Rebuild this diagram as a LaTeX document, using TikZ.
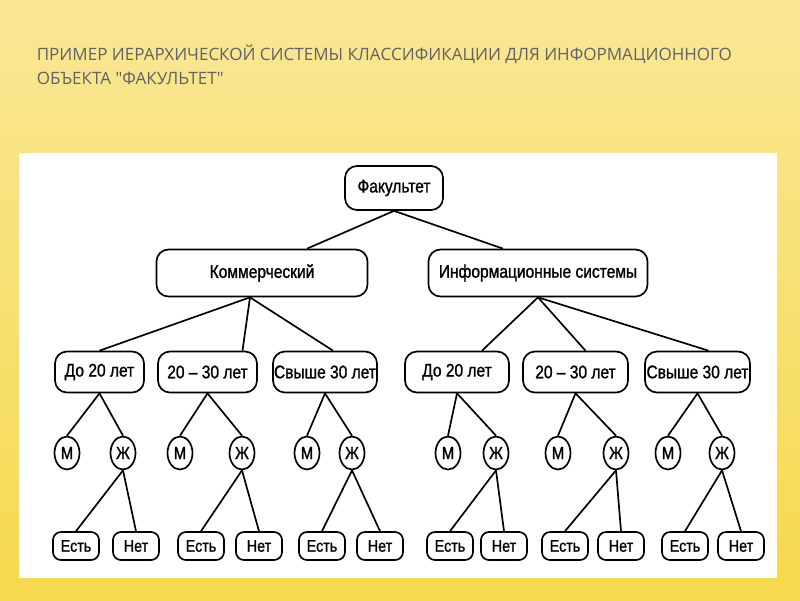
\documentclass[tikz,border=0pt]{standalone}
\usepackage{fontspec}
\setmainfont{Liberation Sans}
\newfontfamily\titlefont{Open Sans}
\newfontfamily\boxfont[FakeStretch=0.85,FakeBold=1.2]{Liberation Sans}
\usetikzlibrary{calc,shapes.geometric}
\definecolor{bgtop}{HTML}{FAE796}
\definecolor{bgmid}{HTML}{FDF0B2}
\definecolor{bgbot}{HTML}{F6D94E}
\definecolor{titlegray}{HTML}{626262}

\begin{document}
\begin{tikzpicture}[
  x=0.025cm, y=-0.025cm,
  box/.style={
    draw, line width=1.2pt, rounded corners=0.3cm,
    inner sep=0pt, font=\boxfont\fontsize{13}{15}\selectfont
  },
  sex/.style={
    draw, ellipse, line width=1.2pt, inner sep=0pt,
    minimum width=0.625cm, minimum height=0.825cm,
    font=\boxfont\fontsize{12.5}{14}\selectfont
  },
  ans/.style={
    box, rounded corners=0.2cm,
    minimum width=1.15cm, minimum height=0.7cm,
    font=\boxfont\fontsize{12}{13}\selectfont
  },
  every path/.style={line width=1.2pt}
]
  \useasboundingbox (0,0) rectangle (800,600);
  \shade[top color=bgtop, middle color=bgmid, bottom color=bgbot, line width=0pt]
    (0,0) rectangle (800,600);
  \fill[white] (19,153) rectangle (777,578);
  \node[anchor=north west, align=left, text=titlegray, inner sep=0pt,
    font=\titlefont\fontsize{12.1}{16.8}\selectfont] (title) at (36,44)
    {ПРИМЕР ИЕРАРХИЧЕСКОЙ СИСТЕМЫ КЛАССИФИКАЦИИ ДЛЯ ИНФОРМАЦИОННОГО\\
     ОБЪЕКТА "ФАКУЛЬТЕТ"};
  \node[box, minimum width=2.45cm, minimum height=1.1cm] (fak) at (394,188) {Факультет};
  \node[box, minimum width=5.275cm, minimum height=1.175cm] (kom) at (262,273) {Коммерческий};
  \node[box, minimum width=5.475cm, minimum height=1.175cm] (inf) at (538,273) {Информационные системы};
  \draw (fak.south) -- ($(kom.north)+(45,0)$);
  \draw (fak.south) -- ($(inf.north)+(-35,0)$);
  \foreach \i/\ax/\aw/\lab/\mx/\zx/\ex/\nx/\up/\sx/\dx in {
    1/99.5/2.225/До 20 лет/67/123/76/136/kom/-12/0,
    2/207.5/2.475/20 – 30 лет/180/242/201/259/kom/-12/35,
    3/325/2.6/Свыше 30 лет/307/352/322/380/kom/-12/8,
    4/457/2.6/До 20 лет/448/496/450/504/inf/0/25,
    5/575.5/2.625/20 – 30 лет/558/616/565/621/inf/0/10,
    6/697.5/2.625/Свыше 30 лет/668/722/685/741/inf/0/11} {
    \node[box, minimum width=\aw cm, minimum height=1.025cm] (a\i) at (\ax,372) {\lab};
    \node[sex] (m\i) at (\mx,453) {М};
    \node[sex] (z\i) at (\zx,453) {Ж};
    \node[ans] (e\i) at (\ex,546) {Есть};
    \node[ans] (n\i) at (\nx,546) {Нет};
    \draw ($(\up.south)+(\sx,0)$) -- ($(a\i.north)+(\dx,0)$);
    \draw (a\i.south) -- (m\i.north);
    \draw (a\i.south) -- (z\i.north);
    \draw (z\i.south) -- (e\i.north);
    \draw (z\i.south) -- (n\i.north);
  }
\end{tikzpicture}
\end{document}
